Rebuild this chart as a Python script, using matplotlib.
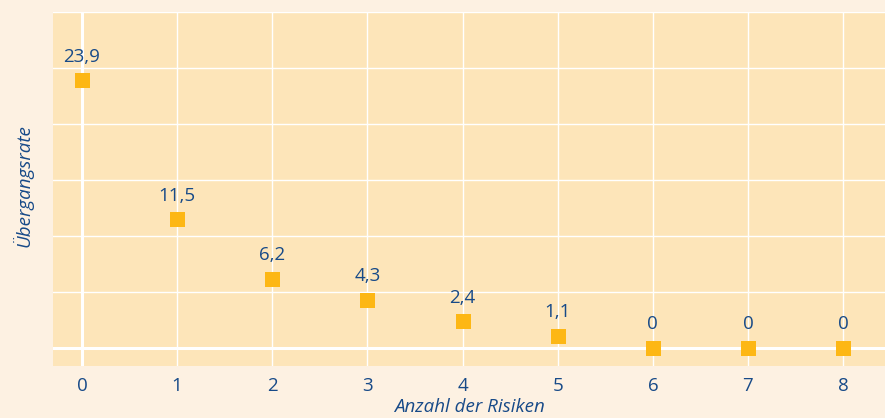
import matplotlib.pyplot as plt
import numpy as np

# Übergangsrate nach Anzahl der Risiken
risiken = [0, 1, 2, 3, 4, 5, 6, 7, 8]
rate = [23.9, 11.5, 6.2, 4.3, 2.4, 1.1, 0, 0, 0]
labels = ["23,9", "11,5", "6,2", "4,3", "2,4", "1,1", "0", "0", "0"]

outer_bg = "#fdf1e2"
inner_bg = "#fde5b9"
orange = "#fdb714"
blue = "#174a88"

plt.rcParams['font.family'] = ['Open Sans', 'DejaVu Sans']

W, H = 885, 418
fig = plt.figure(figsize=(W / 100, H / 100), dpi=100, facecolor=outer_bg)
ax = fig.add_axes([53 / W, (H - 366) / H, (W - 53) / W, (366 - 12) / H])
ax.set_facecolor(inner_bg)

ax.set_xlim(-0.305, 8.44)
ax.set_ylim(-1.6, 30)
ax.set_xticks(risiken)
ax.set_yticks(np.arange(0, 31, 5))
ax.set_yticklabels([])
ax.grid(True, color="white", linewidth=1.0)
ax.axhline(0, color="white", linewidth=2.2, zorder=1)
ax.axvline(0, color="white", linewidth=2.2, zorder=1)
ax.set_axisbelow(True)
for s in ax.spines.values():
    s.set_visible(False)
ax.tick_params(length=0, labelsize=13.5, labelcolor=blue, pad=8)

ax.plot(risiken, rate, linestyle="none", marker="s", markersize=10.8,
        color=orange, markeredgewidth=0, zorder=3)

for x, y, t in zip(risiken, rate, labels):
    ax.annotate(t, (x, y), xytext=(0, 17), textcoords="offset points",
                ha="center", va="center", fontsize=13.5, color=blue)

ax.set_xlabel("Anzahl der Risiken", fontsize=13.5, color=blue, style="italic", labelpad=2)
ax.set_ylabel("Übergangsrate", fontsize=13.5, color=blue, style="italic")
ax.yaxis.set_label_coords(-0.024, 0.51)

fig.savefig("out.png", dpi=100, facecolor=outer_bg)
